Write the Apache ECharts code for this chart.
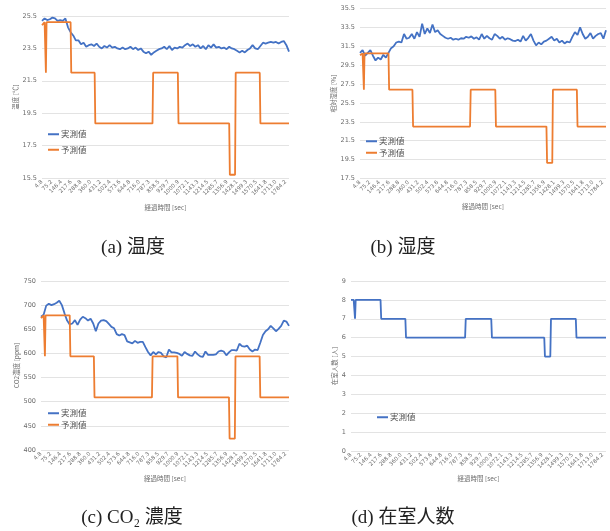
<!DOCTYPE html>
<html><head><meta charset="utf-8">
<script src="https://cdn.jsdelivr.net/npm/echarts@6/dist/echarts.min.js"></script>
<style>html,body{margin:0;padding:0;background:#fff}#c{width:610px;height:531px}</style>
</head><body><div id="c"></div>
<script>
// x tick labels (elapsed time [sec]), one every 15 samples
const xTickLabels = ['4.8','75.2','146.4','217.6','288.8','360.0','431.2','502.4','573.6','644.8','716.0','787.3','858.5','929.7','1000.9','1072.1','1143.3','1214.5','1285.7','1356.9','1428.1','1499.3','1570.5','1641.8','1713.0','1784.2'];
const lastIndex = 380;
const sampleStep = 4; // measured values read every 4 samples

const tempActual = [25.2,25.35,25.25,25.3,25.4,25.35,25.2,25.25,25.2,25.35,24.8,24.5,24.3,24.0,24.0,23.75,23.85,23.6,23.7,23.75,23.65,23.8,23.6,23.5,23.65,23.55,23.7,23.55,23.6,23.5,23.45,23.55,23.45,23.5,23.6,23.45,23.55,23.4,23.5,23.3,23.2,23.3,23.1,23.25,23.35,23.45,23.5,23.6,23.45,23.65,23.4,23.55,23.5,23.6,23.55,23.7,23.8,23.65,23.75,23.6,23.7,23.5,23.65,23.45,23.7,23.55,23.75,23.55,23.6,23.5,23.55,23.45,23.6,23.5,23.45,23.35,23.25,23.35,23.25,23.4,23.5,23.7,23.5,23.45,23.65,23.85,23.8,23.85,23.9,23.85,23.9,23.8,23.9,23.95,23.7,23.3];
const humActual = [30.8,31.1,30.5,30.8,31.1,30.5,30.0,30.3,30.1,30.6,30.3,30.8,31.3,31.5,31.9,32.0,31.9,32.8,32.3,32.4,32.8,32.3,33.0,32.5,33.9,32.8,33.4,32.9,33.8,33.0,33.2,32.8,32.6,32.4,32.3,32.4,32.2,32.3,32.2,32.35,32.3,32.5,32.4,32.55,32.3,32.45,32.2,32.8,32.3,32.6,32.35,32.2,32.8,32.6,32.3,32.5,32.2,32.35,32.25,32.1,32.05,32.2,32.0,32.6,32.1,32.4,32.8,32.1,31.6,31.9,31.7,32.0,32.1,32.3,32.5,32.1,32.3,31.9,32.1,31.8,32.0,31.9,32.5,33.0,32.7,33.5,32.8,32.3,32.5,32.9,32.3,32.6,32.8,32.9,32.3,33.2];
const co2Actual = [676,680,699,703,700,702,705,709,700,683,668,660,662,669,659,670,676,673,668,672,662,646,662,668,669,667,661,655,652,640,637,640,638,625,623,621,626,622,624,624,613,603,596,603,598,603,601,594,592,608,602,602,601,599,595,603,599,596,595,604,598,594,593,604,597,597,597,598,604,606,604,596,602,607,607,606,620,615,614,616,608,604,608,607,622,638,646,650,657,652,646,651,657,668,666,657];

// step (change-point) series: sample index and value
const stepIdx = [0,4,5,6,7,44,45,81,82,170,171,209,210,288,289,297,298,335,336,380];
const tempPred = [24.93,25.12,25.12,22.0,25.12,25.12,22.0,22.0,18.87,18.87,22.0,22.0,18.87,18.87,15.7,15.7,22.0,22.0,18.87,18.87];
const humPred  = [30.55,30.75,30.75,26.9,30.75,30.75,26.9,26.9,23.0,23.0,26.9,26.9,23.0,23.0,19.15,19.15,26.9,26.9,23.0,23.0];
const co2Pred  = [673,679,679,594,679,679,594,594,509,509,594,594,509,509,423.5,423.5,594,594,509,509];
const occActual= [8,8,8,7,8,8,7,7,6,6,7,7,6,6,5,5,7,7,6,6];

const BLUE = '#4472C4', ORANGE = '#ED7D31', GRAY = '#6b6b6b';
const JP = "'Noto Sans CJK JP','Noto Sans',sans-serif";

function sampled(vals){ return vals.map((v,i)=>[i*sampleStep, v]); }
function stepped(vals){ return vals.map((v,i)=>[stepIdx[i], v]); }

const grids = [
  {left:42, top:16, width:247, height:162},
  {left:360, top:8.5, width:246, height:170},
  {left:41, top:281, width:248, height:169},
  {left:351, top:281, width:255, height:170}
];
const yDefs = [
  {min:15.5, max:25.5, interval:2, name:'温度 [℃]', gap:20, dec:1},
  {min:17.5, max:35.5, interval:2, name:'相対湿度 [%]', gap:20, dec:1},
  {min:400, max:750, interval:50, name:'CO2濃度 [ppm]', gap:16, dec:0},
  {min:0, max:9, interval:1, name:'在室人数 [人]', gap:11, dec:0}
];
const xGaps = [26, 25, 25, 24.5];

const xAxis = grids.map((g,i)=>({
  type:'value', gridIndex:i, min:0, max:lastIndex, interval:15,
  name:'経過時間 [sec]', nameLocation:'middle', nameGap:xGaps[i],
  nameTextStyle:{fontSize:6.5, color:GRAY, fontFamily:JP},
  axisLine:{show:false}, axisTick:{show:false}, splitLine:{show:false},
  axisLabel:{rotate:45, fontSize:5.5, color:GRAY, margin:3, fontFamily:'DejaVu Sans',
    showMinLabel:true, showMaxLabel:true,
    formatter:v=> (v%15===0 && xTickLabels[v/15]!==undefined) ? xTickLabels[v/15] : ''}
}));
const yAxis = yDefs.map((d,i)=>({
  type:'value', gridIndex:i, min:d.min, max:d.max, interval:d.interval,
  name:d.name, nameLocation:'middle', nameGap:d.gap, nameRotate:90,
  nameTextStyle:{fontSize:6.5, color:GRAY, fontFamily:JP},
  axisLine:{show:false}, axisTick:{show:false},
  splitLine:{show:true, lineStyle:{color:'#e3e3e3', width:1}},
  axisLabel:{fontSize:6.5, color:GRAY, margin:5, fontFamily:'DejaVu Sans',
    formatter:v=>v.toFixed(d.dec)}
}));

function line(name, data, color, gi){
  return {type:'line', name, data, xAxisIndex:gi, yAxisIndex:gi, showSymbol:false,
    symbol:'none', lineStyle:{color, width:1.8}, itemStyle:{color}, animation:false, z:2};
}
const series = [
  line('実測値', sampled(tempActual), BLUE, 0),
  line('予測値', stepped(tempPred), ORANGE, 0),
  line('実測値', sampled(humActual), BLUE, 1),
  line('予測値', stepped(humPred), ORANGE, 1),
  line('実測値', sampled(co2Actual), BLUE, 2),
  line('予測値', stepped(co2Pred), ORANGE, 2),
  line('実測値', stepped(occActual), BLUE, 3)
];

function legend(left, top, gap, names){
  return {orient:'vertical', left, top, itemWidth:11, itemHeight:2, itemGap:gap, icon:'rect',
    padding:0, selectedMode:false,
    textStyle:{fontSize:8.5, color:'#555', fontFamily:JP, padding:[0,0,0,-3]}, data:names};
}

const capFont = "'Liberation Serif','DejaVu Serif','Noto Sans CJK JP',serif";
function cap(x,y,t){
  return {type:'text', x, y, silent:true,
    style:{text:t, fontSize:19, fontFamily:capFont, fill:'#222', align:'center', verticalAlign:'middle'}};
}

const chart = echarts.init(document.getElementById('c'), null, {renderer:'canvas'});
chart.setOption({
  animation:false,
  backgroundColor:'#fff',
  grid:grids,
  xAxis, yAxis, series,
  legend:[
    legend(48, 130, 7, ['実測値','予測値']),
    legend(366, 137, 3, ['実測値','予測値']),
    legend(48, 409, 3, ['実測値','予測値']),
    legend(377, 413, 3, ['実測値'])
  ],
  graphic:[
    cap(133, 248, '(a) 温度'),
    cap(403, 248, '(b) 湿度'),
    cap(132, 518, '(c) CO₂ 濃度'),
    cap(403, 518, '(d) 在室人数')
  ]
});
</script></body></html>
